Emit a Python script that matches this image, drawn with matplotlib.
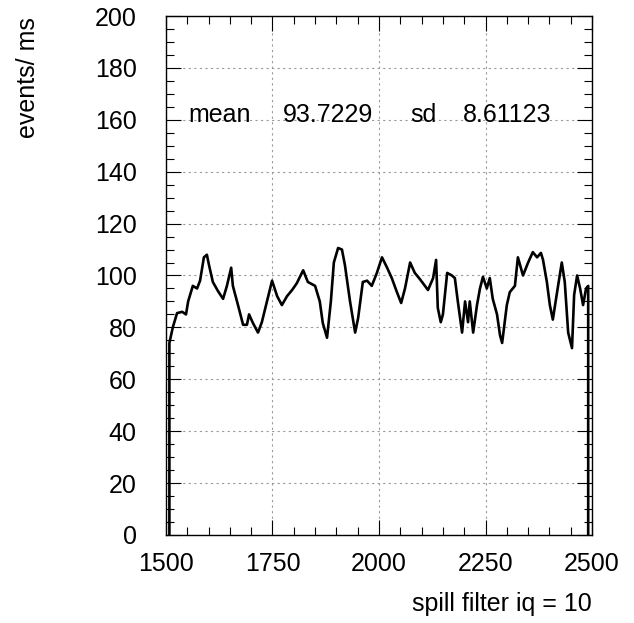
import matplotlib

matplotlib.use("Agg")
import matplotlib.pyplot as plt
from matplotlib.ticker import MultipleLocator

plt.rcParams["font.family"] = ["Liberation Sans", "DejaVu Sans"]

# event rate per ms across the spill (filter iq = 10)
time_ms = [
    1508, 1508, 1516, 1526, 1538, 1547, 1552, 1563, 1573, 1580, 1589, 1596,
    1601, 1610, 1622, 1634, 1643, 1653, 1657, 1669, 1681, 1690, 1695, 1704,
    1716, 1725, 1737, 1749, 1761, 1772, 1784, 1796, 1807, 1822, 1833, 1850,
    1861, 1868, 1878, 1887, 1894, 1904, 1913, 1920, 1932, 1944, 1951, 1962,
    1972, 1983, 1995, 2007, 2019, 2030, 2042, 2052, 2061, 2073, 2084, 2094,
    2101, 2115, 2127, 2134, 2138, 2145, 2150, 2160, 2171, 2178, 2185, 2195,
    2202, 2209, 2213, 2221, 2230, 2237, 2244, 2253, 2260, 2267, 2277, 2284,
    2289, 2300, 2307, 2319, 2326, 2338, 2350, 2361, 2371, 2380, 2385, 2394,
    2401, 2408, 2418, 2429, 2436, 2444, 2453, 2458, 2465, 2472, 2479, 2486,
    2491, 2491,
]
rate = [
    0, 74, 80, 85.5, 86, 85, 90, 96, 95, 98, 107, 108,
    104, 97.5, 94, 91, 96, 103, 96, 88.6, 81, 81, 85, 81.7,
    78, 82, 90, 98, 92, 88.6, 92, 94.4, 97, 102, 97.5, 96,
    90, 81.7, 76, 90, 105, 110.6, 110, 104, 90, 78, 83.6, 97.5,
    98, 96, 101, 107, 103, 99, 93.6, 89.4, 95, 105, 101, 99,
    97.5, 94.4, 99, 106, 87.5, 82, 85, 101, 100, 99, 90, 78,
    90, 82, 90, 78, 88.6, 95, 99.5, 95, 99, 91, 85, 77,
    74, 88.6, 93.6, 96, 107, 100, 105, 109, 107, 108.7, 106, 97.5,
    88.6, 83, 93.6, 105, 97.5, 78, 72, 92.5, 100, 95, 88.6, 95,
    96, 0,
]

mean_rate = 93.7229
sd_rate = 8.61123

FS = 18

fig = plt.figure(figsize=(6.34, 6.23), dpi=100)
fig.patch.set_facecolor("white")
ax = fig.add_axes([0.2618, 0.1413, 0.672, 0.833])

ax.plot(time_ms, rate, color="black", linewidth=1.9, zorder=3)

ax.set_xlim(1500, 2500)
ax.set_ylim(0, 200)
ax.xaxis.set_major_locator(MultipleLocator(250))
ax.xaxis.set_minor_locator(MultipleLocator(50))
ax.yaxis.set_major_locator(MultipleLocator(20))
ax.yaxis.set_minor_locator(MultipleLocator(5))

ax.tick_params(which="both", direction="in", top=True, right=True,
               color="black", width=0.8, labelsize=FS)
ax.tick_params(which="major", length=11)
ax.tick_params(which="minor", length=6)
ax.tick_params(axis="y", which="major", pad=21)
ax.tick_params(axis="x", which="major", pad=12)

ax.grid(which="major", linestyle=(0, (2, 3)), color="#9a9a9a", linewidth=0.8)
for s in ax.spines.values():
    s.set_linewidth(1.0)
    s.set_color("black")

# statistics line placed on the 160 grid row
stat_y = 159.3
ax.text(1552, stat_y, "mean", fontsize=FS, va="baseline", ha="left")
ax.text(1775, stat_y, f"{mean_rate:.4f}", fontsize=FS, va="baseline", ha="left")
ax.text(2073, stat_y, "sd", fontsize=FS, va="baseline", ha="left")
ax.text(2197, stat_y, f"{sd_rate:.5f}", fontsize=FS, va="baseline", ha="left")

fig.text(28 / 634, 1 - 17 / 623, "events/ ms", rotation=90, fontsize=FS,
         ha="center", va="top")
fig.text(592 / 634, 1 - 611 / 623, "spill filter iq = 10", fontsize=FS,
         ha="right", va="baseline")

fig.savefig("out.png", dpi=100, facecolor="white")
plt.close(fig)
